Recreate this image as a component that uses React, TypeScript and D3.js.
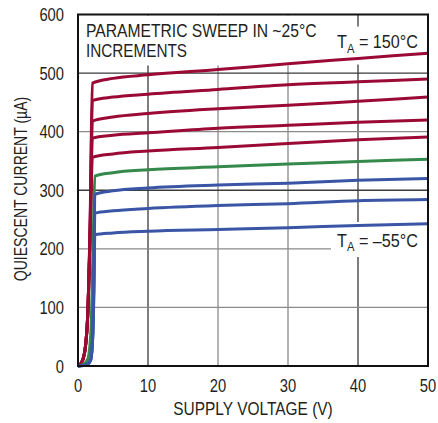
import React from 'react';
import * as d3 from 'd3';

const xTicks = [0, 10, 20, 30, 40, 50];
const yTicks = [0, 100, 200, 300, 400, 500, 600];

const redV = [0, 0.4, 0.9, 1.4, 1.75, 2.05, 5, 10, 20, 30, 40, 50];
const greenV = [0, 0.8, 1.4, 1.85, 2.15, 2.4, 5, 10, 20, 30, 40, 50];
const blueV = [0, 1.2, 1.8, 2.1, 2.28, 2.4, 5, 10, 20, 30, 40, 50];

const red1 = [0, 4, 20, 90, 260, 483, 491, 497, 506, 516, 525, 534];
const red2 = [0, 4, 20, 90, 250, 453, 459, 464, 472, 480, 485, 490];
const red3 = [0, 4, 20, 90, 240, 418, 425, 431, 439, 445, 452, 459];
const red4 = [0, 4, 20, 90, 230, 389, 394, 398, 406, 411, 416, 420];
const red5 = [0, 4, 20, 90, 220, 356, 362, 367, 373, 380, 386, 391];
const green1 = [0, 3, 12, 60, 200, 324, 330, 335, 340, 345, 349, 353];
const blue1 = [0, 2, 10, 50, 170, 293, 299, 304, 309, 312, 317, 320];
const blue2 = [0, 2, 10, 50, 150, 261, 265, 269, 274, 277, 282, 284];
const blue3 = [0, 2, 10, 50, 130, 224, 227, 230, 233, 236, 240, 243];

const RED = '#9b0a35';
const GREEN = '#35894a';
const BLUE = '#3a55a5';

const series = [
  { v: redV, i: red1, c: RED },
  { v: redV, i: red2, c: RED },
  { v: redV, i: red3, c: RED },
  { v: redV, i: red4, c: RED },
  { v: redV, i: red5, c: RED },
  { v: greenV, i: green1, c: GREEN },
  { v: blueV, i: blue1, c: BLUE },
  { v: blueV, i: blue2, c: BLUE },
  { v: blueV, i: blue3, c: BLUE },
];

const darkX = [10, 40];
const darkY = [300, 500];

const FONT = "'Liberation Sans', Arial, sans-serif";
const FS = 18;
const TXT = '#231f20';

function T({ x, y, anchor = 'start', rotate = 0, sx = 0.86, children }: any) {
  return (
    <text transform={`translate(${x},${y}) rotate(${rotate}) scale(${sx},1)`} textAnchor={anchor}
      fontSize={FS} fill={TXT}>{children}</text>
  );
}

export default function App() {
  const left = 78, right = 428, top = 14.5, bottom = 366;
  const x = d3.scaleLinear().domain([0, 50]).range([left, right]);
  const y = d3.scaleLinear().domain([0, 600]).range([bottom, top]);
  const line = d3.line<[number, number]>()
    .x(d => x(d[0]))
    .y(d => y(d[1]))
    .curve(d3.curveMonotoneX);

  return (
    <svg width={438} height={423} style={{ position: 'absolute', left: 0, top: 0, background: '#fff' }}
      fontFamily={FONT}>
      {/* grid */}
      {xTicks.slice(1, -1).map(t => (
        <line key={'gx' + t} x1={x(t)} x2={x(t)} y1={top} y2={bottom}
          stroke={darkX.includes(t) ? '#3a3a3a' : '#8a8a8a'} strokeWidth={1.3} />
      ))}
      {yTicks.slice(1, -1).map(t => (
        <line key={'gy' + t} x1={left} x2={right} y1={y(t)} y2={y(t)}
          stroke={darkY.includes(t) ? '#3a3a3a' : '#8a8a8a'} strokeWidth={1.3} />
      ))}
      {/* label backgrounds */}
      <rect x={left + 1} y={top + 1} width={247} height={50} fill="#fff" />
      <rect x={331} y={top + 12} width={96} height={38} fill="#fff" />
      <rect x={331} y={222} width={96} height={35} fill="#fff" />
      {/* curves */}
      {series.map((s, k) => (
        <path key={'s' + k} d={line(s.v.map((v, j) => [v, s.i[j]] as [number, number])) || ''}
          fill="none" stroke={s.c} strokeWidth={3} strokeLinejoin="round" />
      ))}
      {/* frame */}
      <rect x={left} y={top} width={right - left} height={bottom - top} fill="none" stroke="#111" strokeWidth={2} />
      {/* tick labels */}
      {yTicks.map(t => (
        <T key={'ty' + t} x={64} y={y(t) + 6.5} anchor="end" sx={0.82}>{t}</T>
      ))}
      {xTicks.map(t => (
        <T key={'tx' + t} x={x(t)} y={392} anchor="middle" sx={0.82}>{t}</T>
      ))}
      <T x={(left + right) / 2} y={415} anchor="middle">SUPPLY VOLTAGE (V)</T>
      <T x={27} y={189} anchor="middle" rotate={-90} sx={0.78}>QUIESCENT CURRENT (µA)</T>
      {/* annotations */}
      <T x={86} y={37} sx={0.87}>PARAMETRIC SWEEP IN ~25°C</T>
      <T x={86} y={57} sx={0.85}>INCREMENTS</T>
      <T x={337} y={48} sx={0.9}>T<tspan fontSize={12.5} dy={5}>A</tspan><tspan dy={-5}> = 150°C</tspan></T>
      <T x={337} y={247} sx={0.9}>T<tspan fontSize={12.5} dy={4}>A</tspan><tspan dy={-4}> = –55°C</tspan></T>
    </svg>
  );
}
